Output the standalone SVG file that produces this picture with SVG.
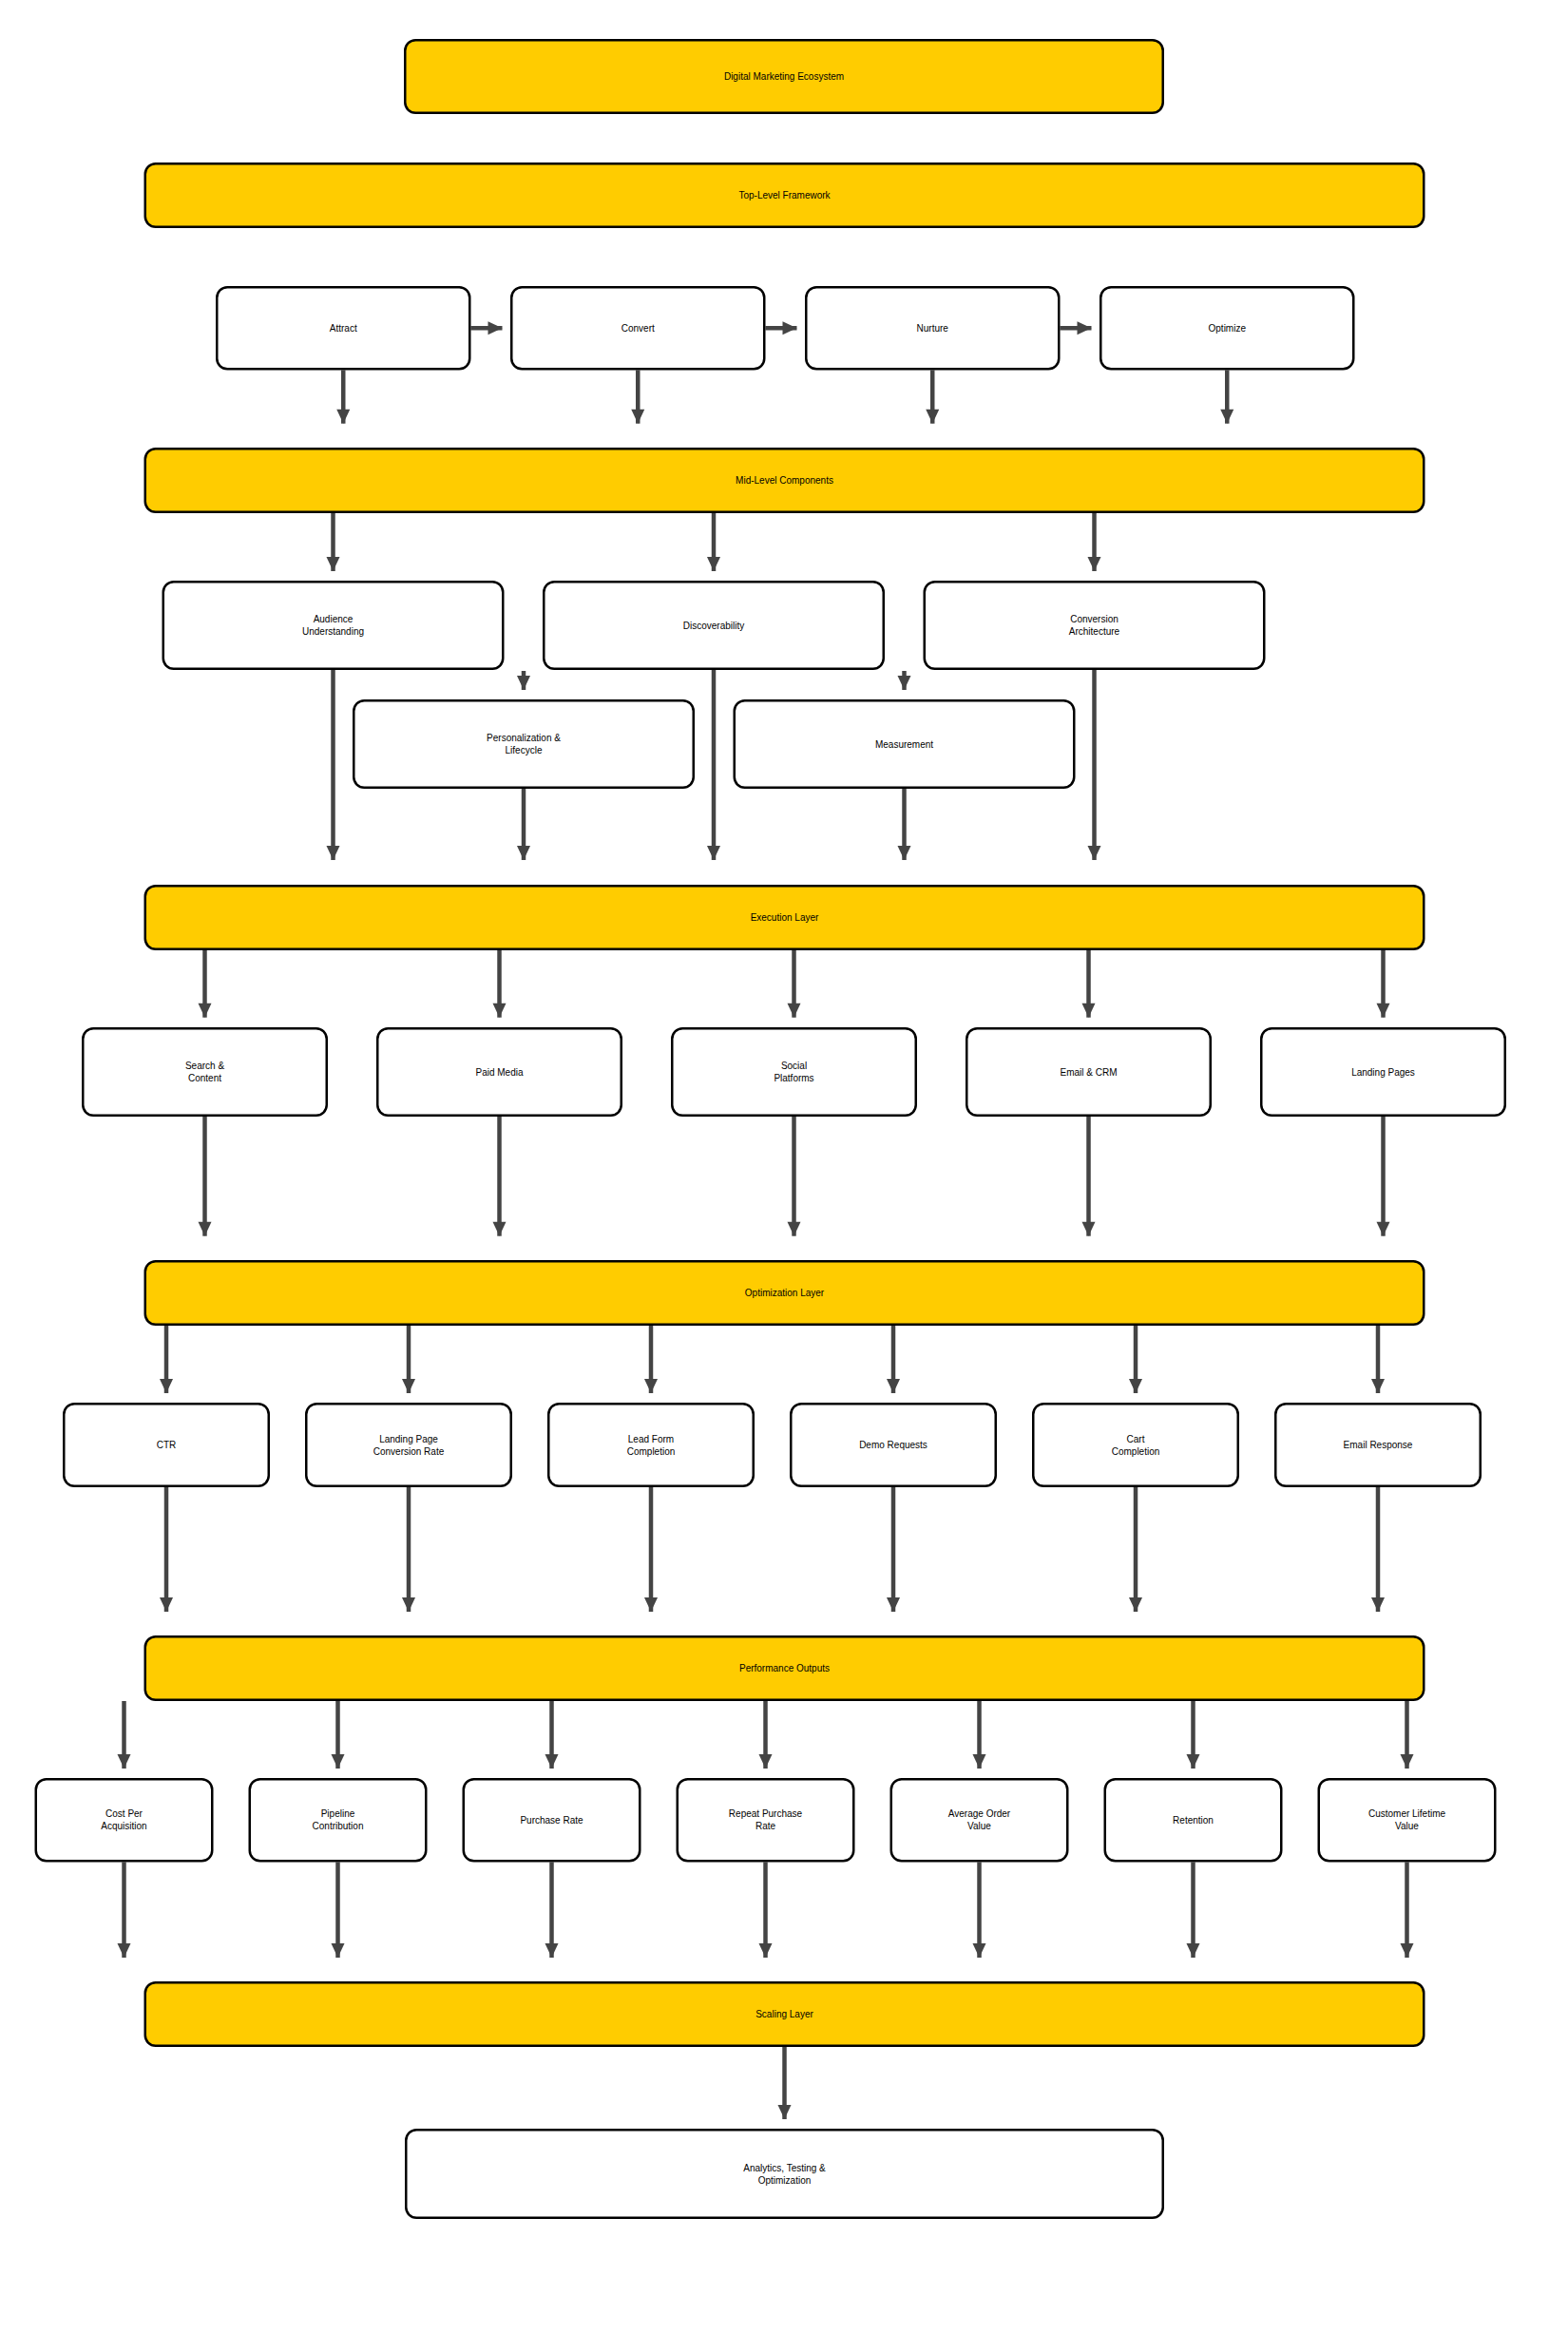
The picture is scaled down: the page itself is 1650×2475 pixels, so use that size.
<svg xmlns="http://www.w3.org/2000/svg" width="1650" height="2475" viewBox="0 0 1650 2475">
<style>
.bg{fill:#ffffff}
.layer{fill:#FFCC00;stroke:#000;stroke-width:2.5}
.box{fill:#ffffff;stroke:#000;stroke-width:2.5}
.t{font-family:"Liberation Sans",Arial,sans-serif;font-size:10px;fill:#000;text-anchor:middle}
.c line{stroke:#444;stroke-width:4.5;fill:none;marker-end:url(#ah)}
</style>
<defs>
<marker id="ah" markerUnits="userSpaceOnUse" markerWidth="15" markerHeight="14" refX="15" refY="7" orient="auto" overflow="visible">
<path d="M0,0 L15,7 L0,14 z" fill="#444"/>
</marker>
</defs>
<rect class="bg" x="0" y="0" width="1650" height="2475"/>

<g id="connectors" class="c">
<line x1="361.25" y1="389.5" x2="361.25" y2="445.7"/>
<line x1="671.25" y1="389.5" x2="671.25" y2="445.7"/>
<line x1="981.25" y1="389.5" x2="981.25" y2="445.7"/>
<line x1="1291.25" y1="389.5" x2="1291.25" y2="445.7"/>
<line x1="495.5" y1="345.2" x2="528.5" y2="345.2"/>
<line x1="805.5" y1="345.2" x2="838.5" y2="345.2"/>
<line x1="1115.5" y1="345.2" x2="1148.5" y2="345.2"/>
<line x1="350.5" y1="540" x2="350.5" y2="601"/>
<line x1="751" y1="540" x2="751" y2="601"/>
<line x1="1151.5" y1="540" x2="1151.5" y2="601"/>
<line x1="551" y1="706" x2="551" y2="726"/>
<line x1="951.5" y1="706" x2="951.5" y2="726"/>
<line x1="350.5" y1="705" x2="350.5" y2="905"/>
<line x1="551" y1="830" x2="551" y2="905"/>
<line x1="751" y1="705" x2="751" y2="905"/>
<line x1="951.5" y1="830" x2="951.5" y2="905"/>
<line x1="1151.5" y1="705" x2="1151.5" y2="905"/>
<line x1="215.5" y1="1000" x2="215.5" y2="1070.7"/>
<line x1="525.5" y1="1000" x2="525.5" y2="1070.7"/>
<line x1="835.5" y1="1000" x2="835.5" y2="1070.7"/>
<line x1="1145.5" y1="1000" x2="1145.5" y2="1070.7"/>
<line x1="1455.5" y1="1000" x2="1455.5" y2="1070.7"/>
<line x1="215.5" y1="1175" x2="215.5" y2="1300.7"/>
<line x1="525.5" y1="1175" x2="525.5" y2="1300.7"/>
<line x1="835.5" y1="1175" x2="835.5" y2="1300.7"/>
<line x1="1145.5" y1="1175" x2="1145.5" y2="1300.7"/>
<line x1="1455.5" y1="1175" x2="1455.5" y2="1300.7"/>
<line x1="175" y1="1395" x2="175" y2="1466"/>
<line x1="430" y1="1395" x2="430" y2="1466"/>
<line x1="685" y1="1395" x2="685" y2="1466"/>
<line x1="940" y1="1395" x2="940" y2="1466"/>
<line x1="1195" y1="1395" x2="1195" y2="1466"/>
<line x1="1450" y1="1395" x2="1450" y2="1466"/>
<line x1="175" y1="1565" x2="175" y2="1696"/>
<line x1="430" y1="1565" x2="430" y2="1696"/>
<line x1="685" y1="1565" x2="685" y2="1696"/>
<line x1="940" y1="1565" x2="940" y2="1696"/>
<line x1="1195" y1="1565" x2="1195" y2="1696"/>
<line x1="1450" y1="1565" x2="1450" y2="1696"/>
<line x1="130.5" y1="1790" x2="130.5" y2="1861"/>
<line x1="355.5" y1="1790" x2="355.5" y2="1861"/>
<line x1="580.5" y1="1790" x2="580.5" y2="1861"/>
<line x1="805.5" y1="1790" x2="805.5" y2="1861"/>
<line x1="1030.5" y1="1790" x2="1030.5" y2="1861"/>
<line x1="1255.5" y1="1790" x2="1255.5" y2="1861"/>
<line x1="1480.5" y1="1790" x2="1480.5" y2="1861"/>
<line x1="130.5" y1="1959.5" x2="130.5" y2="2060"/>
<line x1="355.5" y1="1959.5" x2="355.5" y2="2060"/>
<line x1="580.5" y1="1959.5" x2="580.5" y2="2060"/>
<line x1="805.5" y1="1959.5" x2="805.5" y2="2060"/>
<line x1="1030.5" y1="1959.5" x2="1030.5" y2="2060"/>
<line x1="1255.5" y1="1959.5" x2="1255.5" y2="2060"/>
<line x1="1480.5" y1="1959.5" x2="1480.5" y2="2060"/>
<line x1="825.5" y1="2154" x2="825.5" y2="2230"/>
</g>

<g id="digital-marketing-ecosystem"><rect class="layer" x="426.25" y="42.25" width="797.5" height="76.5" rx="11"/><text class="t" x="825" y="84.1">Digital Marketing Ecosystem</text></g>
<g id="top-level-framework"><rect class="layer" x="152.75" y="172.25" width="1345.5" height="66.5" rx="11"/><text class="t" x="825.5" y="209.1">Top-Level Framework</text></g>

<g id="attract"><rect class="box" x="228.25" y="302.25" width="266" height="86" rx="11"/><text class="t" x="361.25" y="348.8">Attract</text></g>
<g id="convert"><rect class="box" x="538.25" y="302.25" width="266" height="86" rx="11"/><text class="t" x="671.25" y="348.8">Convert</text></g>
<g id="nurture"><rect class="box" x="848.25" y="302.25" width="266" height="86" rx="11"/><text class="t" x="981.25" y="348.8">Nurture</text></g>
<g id="optimize"><rect class="box" x="1158.25" y="302.25" width="266" height="86" rx="11"/><text class="t" x="1291.25" y="348.8">Optimize</text></g>

<g id="mid-level-components"><rect class="layer" x="152.75" y="472.25" width="1345.5" height="66.5" rx="11"/><text class="t" x="825.5" y="509.1">Mid-Level Components</text></g>

<g id="audience-understanding"><rect class="box" x="171.75" y="612.25" width="357.5" height="91.5" rx="11"/><text class="t" x="350.5" y="655.1">Audience</text><text class="t" x="350.5" y="668.1">Understanding</text></g>
<g id="discoverability"><rect class="box" x="572.25" y="612.25" width="357.5" height="91.5" rx="11"/><text class="t" x="751" y="661.6">Discoverability</text></g>
<g id="conversion-architecture"><rect class="box" x="972.75" y="612.25" width="357.5" height="91.5" rx="11"/><text class="t" x="1151.5" y="655.1">Conversion</text><text class="t" x="1151.5" y="668.1">Architecture</text></g>

<g id="personalization-lifecycle"><rect class="box" x="372.25" y="737.25" width="357.5" height="91.5" rx="11"/><text class="t" x="551" y="780.1">Personalization &amp;</text><text class="t" x="551" y="793.1">Lifecycle</text></g>
<g id="measurement"><rect class="box" x="772.75" y="737.25" width="357.5" height="91.5" rx="11"/><text class="t" x="951.5" y="786.6">Measurement</text></g>

<g id="execution-layer"><rect class="layer" x="152.75" y="932.25" width="1345.5" height="66.5" rx="11"/><text class="t" x="825.5" y="969.1">Execution Layer</text></g>

<g id="search-content"><rect class="box" x="87.25" y="1082.25" width="256.5" height="91.5" rx="11"/><text class="t" x="215.5" y="1125.1">Search &amp;</text><text class="t" x="215.5" y="1138.1">Content</text></g>
<g id="paid-media"><rect class="box" x="397.25" y="1082.25" width="256.5" height="91.5" rx="11"/><text class="t" x="525.5" y="1131.6">Paid Media</text></g>
<g id="social-platforms"><rect class="box" x="707.25" y="1082.25" width="256.5" height="91.5" rx="11"/><text class="t" x="835.5" y="1125.1">Social</text><text class="t" x="835.5" y="1138.1">Platforms</text></g>
<g id="email-crm"><rect class="box" x="1017.25" y="1082.25" width="256.5" height="91.5" rx="11"/><text class="t" x="1145.5" y="1131.6">Email &amp; CRM</text></g>
<g id="landing-pages"><rect class="box" x="1327.25" y="1082.25" width="256.5" height="91.5" rx="11"/><text class="t" x="1455.5" y="1131.6">Landing Pages</text></g>

<g id="optimization-layer"><rect class="layer" x="152.75" y="1327.25" width="1345.5" height="66.5" rx="11"/><text class="t" x="825.5" y="1364.1">Optimization Layer</text></g>

<g id="ctr"><rect class="box" x="67.25" y="1477.25" width="215.5" height="86.5" rx="11"/><text class="t" x="175" y="1524.1">CTR</text></g>
<g id="landing-page-conversion-rate"><rect class="box" x="322.25" y="1477.25" width="215.5" height="86.5" rx="11"/><text class="t" x="430" y="1517.6">Landing Page</text><text class="t" x="430" y="1530.6">Conversion Rate</text></g>
<g id="lead-form-completion"><rect class="box" x="577.25" y="1477.25" width="215.5" height="86.5" rx="11"/><text class="t" x="685" y="1517.6">Lead Form</text><text class="t" x="685" y="1530.6">Completion</text></g>
<g id="demo-requests"><rect class="box" x="832.25" y="1477.25" width="215.5" height="86.5" rx="11"/><text class="t" x="940" y="1524.1">Demo Requests</text></g>
<g id="cart-completion"><rect class="box" x="1087.25" y="1477.25" width="215.5" height="86.5" rx="11"/><text class="t" x="1195" y="1517.6">Cart</text><text class="t" x="1195" y="1530.6">Completion</text></g>
<g id="email-response"><rect class="box" x="1342.25" y="1477.25" width="215.5" height="86.5" rx="11"/><text class="t" x="1450" y="1524.1">Email Response</text></g>

<g id="performance-outputs"><rect class="layer" x="152.75" y="1722.25" width="1345.5" height="66.5" rx="11"/><text class="t" x="825.5" y="1759.1">Performance Outputs</text></g>

<g id="cost-per-acquisition"><rect class="box" x="37.75" y="1872.25" width="185.5" height="86" rx="11"/><text class="t" x="130.5" y="1912.1">Cost Per</text><text class="t" x="130.5" y="1925.1">Acquisition</text></g>
<g id="pipeline-contribution"><rect class="box" x="262.75" y="1872.25" width="185.5" height="86" rx="11"/><text class="t" x="355.5" y="1912.1">Pipeline</text><text class="t" x="355.5" y="1925.1">Contribution</text></g>
<g id="purchase-rate"><rect class="box" x="487.75" y="1872.25" width="185.5" height="86" rx="11"/><text class="t" x="580.5" y="1918.6">Purchase Rate</text></g>
<g id="repeat-purchase-rate"><rect class="box" x="712.75" y="1872.25" width="185.5" height="86" rx="11"/><text class="t" x="805.5" y="1912.1">Repeat Purchase</text><text class="t" x="805.5" y="1925.1">Rate</text></g>
<g id="average-order-value"><rect class="box" x="937.75" y="1872.25" width="185.5" height="86" rx="11"/><text class="t" x="1030.5" y="1912.1">Average Order</text><text class="t" x="1030.5" y="1925.1">Value</text></g>
<g id="retention"><rect class="box" x="1162.75" y="1872.25" width="185.5" height="86" rx="11"/><text class="t" x="1255.5" y="1918.6">Retention</text></g>
<g id="customer-lifetime-value"><rect class="box" x="1387.75" y="1872.25" width="185.5" height="86" rx="11"/><text class="t" x="1480.5" y="1912.1">Customer Lifetime</text><text class="t" x="1480.5" y="1925.1">Value</text></g>

<g id="scaling-layer"><rect class="layer" x="152.75" y="2086.25" width="1345.5" height="66.5" rx="11"/><text class="t" x="825.5" y="2123.1">Scaling Layer</text></g>

<g id="analytics-testing-optimization"><rect class="box" x="427.25" y="2241.25" width="796.5" height="92.5" rx="11"/><text class="t" x="825.5" y="2284.6">Analytics, Testing &amp;</text><text class="t" x="825.5" y="2297.6">Optimization</text></g>
</svg>
